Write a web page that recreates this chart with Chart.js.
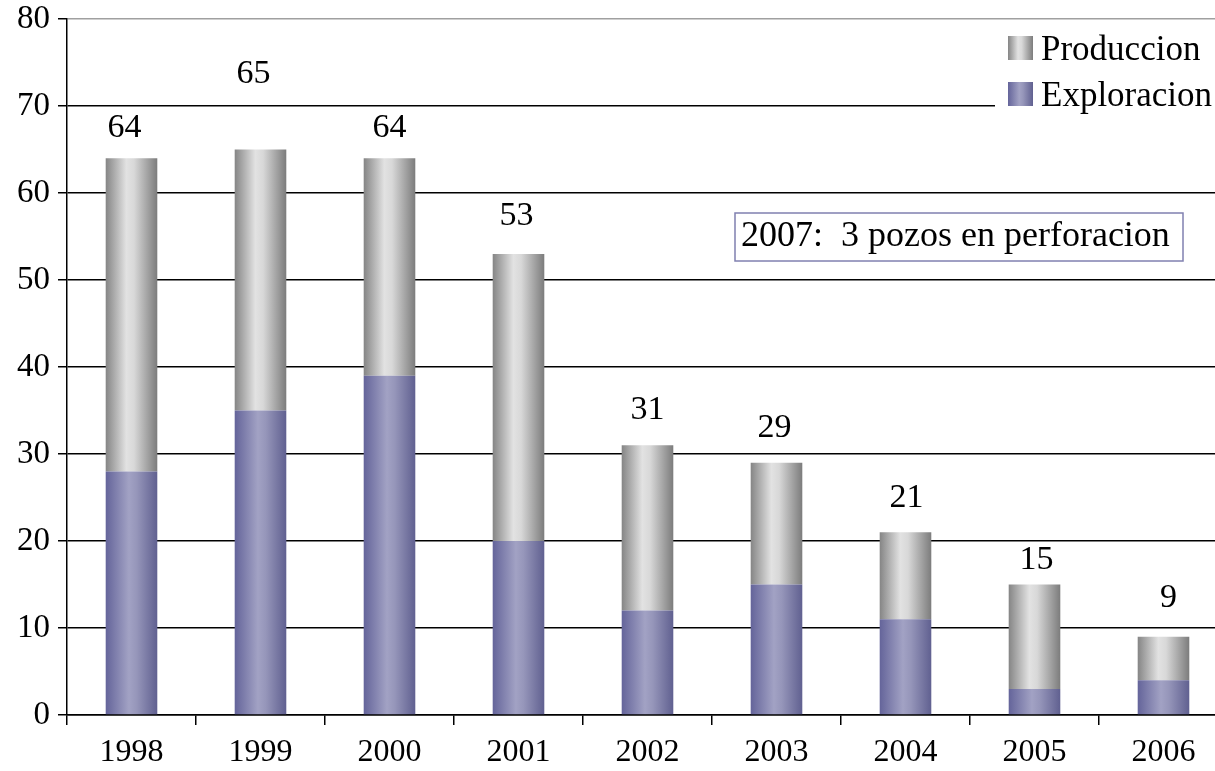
<!DOCTYPE html>
<html>
<head>
<meta charset="utf-8">
<script src="https://cdn.jsdelivr.net/npm/chart.js@4/dist/chart.umd.min.js"></script>
<style>
html,body{margin:0;padding:0;background:#fff;overflow:hidden;}
#wrap{width:1240px;height:771px;}
</style>
</head>
<body>
<div id="wrap"><canvas id="c" width="1240" height="771"></canvas></div>
<script>
const years = ['1998','1999','2000','2001','2002','2003','2004','2005','2006'];
const exploracion = [28, 35, 39, 20, 12, 15, 11, 3, 4];
const produccion = [36, 30, 25, 33, 19, 14, 10, 12, 5];
const yTicks = [0,10,20,30,40,50,60,70,80];
const noteText = '2007:  3 pozos en perforacion';

const FONT = '"Liberation Serif", "Times New Roman", serif';
const BAR_FRAC = 0.4;

const grayStops = [[0,'#858585'],[0.4,'#e2e2e2'],[0.55,'#d8d8d8'],[1,'#7c7c7c']];
const purpleStops = [[0,'#64649a'],[0.45,'#a2a2c4'],[0.6,'#9696ba'],[1,'#606090']];

function barGradient(stops){
  return function(c){
    const chart = c.chart;
    const xs = chart.scales && chart.scales.x;
    if(!xs || !chart.chartArea || c.dataIndex === undefined) return stops[1][1];
    const cx = xs.getPixelForValue(c.dataIndex);
    const w = (xs.width / years.length) * BAR_FRAC;
    const g = chart.ctx.createLinearGradient(cx - w/2, 0, cx + w/2, 0);
    stops.forEach(s => g.addColorStop(s[0], s[1]));
    return g;
  };
}

const labelLift = [30, 75, 30, 38, 35, 35, 34, 24, 39];
const labelDx = [-7, -7, 0, -2, 0, -2, 1, 2, 5];

const extras = {
  id: 'extras',
  afterDatasetsDraw(chart){
    const ctx = chart.ctx;
    const xs = chart.scales.x, ys = chart.scales.y;
    ctx.save();
    ctx.fillStyle = '#000';
    ctx.font = '34px ' + FONT;
    ctx.textAlign = 'center';
    ctx.textBaseline = 'middle';
    years.forEach((y, i) => {
      const total = exploracion[i] + produccion[i];
      const px = xs.getPixelForValue(i) + labelDx[i];
      const py = ys.getPixelForValue(total) - labelLift[i];
      ctx.fillText(String(total), px, py);
    });
    // annotation box
    ctx.fillStyle = '#fff';
    ctx.fillRect(735, 213, 448, 48);
    ctx.strokeStyle = '#8080b0';
    ctx.lineWidth = 1.5;
    ctx.strokeRect(735, 213, 448, 48);
    ctx.fillStyle = '#000';
    ctx.textAlign = 'left';
    ctx.textBaseline = 'alphabetic';
    ctx.font = '36px ' + FONT;
    ctx.fillText(noteText, 741, 246);
    // legend
    ctx.fillStyle = '#fff';
    ctx.fillRect(995, 22, 245, 96);
    const items = chart.data.datasets.slice().reverse();
    const baselines = [60, 106];
    ctx.font = '35px ' + FONT;
    items.forEach((ds, k) => {
      const top = baselines[k] - 24;
      const st = ds.label === 'Produccion' ? grayStops : purpleStops;
      const g = ctx.createLinearGradient(1008, 0, 1033, 0);
      st.forEach(s => g.addColorStop(s[0], s[1]));
      ctx.fillStyle = g;
      ctx.fillRect(1008, top, 25, 24);
      ctx.fillStyle = '#000';
      ctx.fillText(ds.label, 1041, baselines[k]);
    });
    ctx.restore();
  }
};

new Chart(document.getElementById('c'), {
  type: 'bar',
  data: {
    labels: years,
    datasets: [
      { label: 'Exploracion', data: exploracion, backgroundColor: barGradient(purpleStops), borderWidth: 0, barPercentage: BAR_FRAC, categoryPercentage: 1 },
      { label: 'Produccion', data: produccion, backgroundColor: barGradient(grayStops), borderWidth: 0, barPercentage: BAR_FRAC, categoryPercentage: 1 }
    ]
  },
  options: {
    responsive: false,
    animation: false,
    devicePixelRatio: 1,
    layout: { padding: { left: 0, top: 19, right: 12, bottom: 0 } },
    plugins: { legend: { display: false }, tooltip: { enabled: false } },
    scales: {
      x: {
        stacked: true,
        afterFit(s){ s.height = 56; s.paddingLeft = 0; s.paddingRight = 0; },
        grid: { offset: true, drawOnChartArea: false, drawTicks: true, tickLength: 10, color: '#000', lineWidth: 1.5 },
        border: { color: '#000', width: 1.5 },
        ticks: { color: '#000', font: { family: FONT, size: 32 }, padding: 8, maxRotation: 0 }
      },
      y: {
        stacked: true,
        min: 0, max: 80,
        afterFit(s){ s.width = 67; s.paddingTop = 0; s.paddingBottom = 0; },
        afterBuildTicks(s){ s.ticks = yTicks.map(v => ({ value: v })); },
        grid: {
          color: c => (c.tick && c.tick.value === 80) ? '#a0a0a0' : '#000',
          tickColor: '#000',
          lineWidth: 1.5,
          tickLength: 9
        },
        border: { color: '#000', width: 1.5 },
        ticks: { color: '#000', font: { family: FONT, size: 33 }, padding: 8, stepSize: 10 }
      }
    }
  },
  plugins: [extras]
});
</script>
</body>
</html>
